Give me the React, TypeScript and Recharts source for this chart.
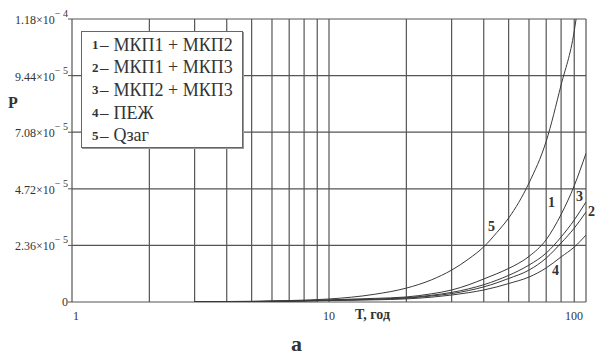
import React from 'react';
import { LineChart, Line, XAxis, YAxis, CartesianGrid } from 'recharts';

// T, years (log axis) and probabilities P for each scheme
const years = [3, 5, 7, 10, 15, 20, 25, 30, 35, 40, 45, 50, 60, 70, 80, 90, 100];
const mkp12 = [0.05e-6, 0.2e-6, 0.45e-6, 0.9e-6, 1.5e-6, 2.1e-6, 3.4e-6, 5.0e-6, 7.2e-6, 9.6e-6, 11.8e-6, 14.0e-6, 19.0e-6, 26.0e-6, 36.5e-6, 48.5e-6, 62.0e-6];
const mkp13 = [0.04e-6, 0.15e-6, 0.35e-6, 0.7e-6, 1.1e-6, 1.6e-6, 2.5e-6, 3.5e-6, 4.8e-6, 6.3e-6, 8.0e-6, 9.8e-6, 13.3e-6, 18.3e-6, 24.6e-6, 30.8e-6, 37.5e-6];
const mkp23 = [0.04e-6, 0.15e-6, 0.35e-6, 0.7e-6, 1.2e-6, 1.8e-6, 2.8e-6, 4.0e-6, 5.5e-6, 7.2e-6, 9.1e-6, 11.1e-6, 15.4e-6, 20.4e-6, 27.1e-6, 34.2e-6, 41.7e-6];
const pez = [0.03e-6, 0.12e-6, 0.3e-6, 0.6e-6, 0.9e-6, 1.3e-6, 2.0e-6, 2.9e-6, 3.9e-6, 5.0e-6, 6.3e-6, 7.7e-6, 10.4e-6, 14.2e-6, 18.8e-6, 22.9e-6, 27.9e-6];
const qzagYears = [3, 5, 7, 10, 15, 20, 25, 30, 35, 40, 45, 50, 60, 70, 80, 90, 91.5];
const qzag = [0.1e-6, 0.3e-6, 0.6e-6, 1.25e-6, 3.2e-6, 5.8e-6, 9.2e-6, 13.3e-6, 18.0e-6, 23.0e-6, 29.0e-6, 35.0e-6, 49.6e-6, 67.0e-6, 90.5e-6, 113e-6, 118e-6];

const xTicks = [1, 2, 3, 4, 5, 6, 7, 8, 9, 10, 20, 30, 40, 50, 60, 70, 80, 90, 100];
const xLabels = [1, 10, 100];
const yTicks = [0, 2.36e-5, 4.72e-5, 7.08e-5, 9.44e-5, 1.18e-4];

const legendItems = [
  { num: '1', text: 'МКП1 + МКП2' },
  { num: '2', text: 'МКП1 + МКП3' },
  { num: '3', text: 'МКП2 + МКП3' },
  { num: '4', text: 'ПЕЖ' },
  { num: '5', text: 'Qзаг' },
];

const toSeries = (xs: number[], ys: number[]) => xs.map((t, i) => ({ t, p: ys[i] }));

const FONT = "'Liberation Serif', 'DejaVu Serif', 'Times New Roman', Times, serif";
const INK = '#333';

const YTick = (props: any) => {
  const { x, y, payload } = props;
  const v: number = payload.value;
  if (v === 0) {
    return (
      <text x={x} y={y + 4} textAnchor="end" fontSize={12} fontFamily={FONT} fill={INK}>
        0
      </text>
    );
  }
  const [mant, exp] = v.toExponential(2).split('e');
  return (
    <text x={x} y={y + 5} textAnchor="end" fontSize={12} fontFamily={FONT} fill={INK}>
      <tspan>{mant}×10</tspan>
      <tspan dy={-7} fontSize={10}>
        {'\u2212 ' + String(-Number(exp))}
      </tspan>
    </text>
  );
};

const XTick = (props: any) => {
  const { x, y, payload } = props;
  const v: number = payload.value;
  if (!xLabels.includes(v)) return null;
  const anchor = v === 1 ? 'start' : v === 100 ? 'end' : 'middle';
  const dx = v === 100 ? -3 : v === 1 ? 1 : 0;
  return (
    <text x={x + dx} y={y + 18} textAnchor={anchor} fontSize={12} fontFamily={FONT} fill={INK}>
      {v}
    </text>
  );
};

const curveLabels = [
  { n: '5', x: 488, y: 219 },
  { n: '1', x: 548, y: 195 },
  { n: '3', x: 576, y: 189 },
  { n: '2', x: 588, y: 204 },
  { n: '4', x: 552, y: 263 },
];

const App: React.FC = () => {
  return (
    <div style={{ position: 'relative', width: 595, height: 355, fontFamily: FONT, background: '#fff' }}>
      <style>{'body{margin:0}'}</style>
      <LineChart width={595} height={355} margin={{ top: 19, right: 9, left: 0, bottom: 0 }}>
        <CartesianGrid stroke="#555" strokeWidth={1.2} fill="none" />
        <XAxis
          type="number"
          dataKey="t"
          scale="log"
          domain={[1, 100]}
          ticks={xTicks}
          interval={0}
          allowDataOverflow
          axisLine={false}
          tickLine={false}
          tickSize={0}
          tickMargin={0}
          height={53}
          tick={<XTick />}
        />
        <YAxis
          type="number"
          domain={[0, 1.18e-4]}
          ticks={yTicks}
          interval={0}
          allowDataOverflow
          axisLine={false}
          tickLine={{ stroke: '#555' }}
          tickSize={4}
          tickMargin={0}
          width={72}
          tick={<YTick />}
        />
        <Line data={toSeries(years, mkp12)} dataKey="p" type="monotone" stroke="#3a3a3a" strokeWidth={1} dot={false} isAnimationActive={false} />
        <Line data={toSeries(years, mkp13)} dataKey="p" type="monotone" stroke="#3a3a3a" strokeWidth={1} dot={false} isAnimationActive={false} />
        <Line data={toSeries(years, mkp23)} dataKey="p" type="monotone" stroke="#3a3a3a" strokeWidth={1} dot={false} isAnimationActive={false} />
        <Line data={toSeries(years, pez)} dataKey="p" type="monotone" stroke="#3a3a3a" strokeWidth={1} dot={false} isAnimationActive={false} />
        <Line data={toSeries(qzagYears, qzag)} dataKey="p" type="monotone" stroke="#3a3a3a" strokeWidth={1} dot={false} isAnimationActive={false} />
      </LineChart>

      {/* legend box */}
      <div
        style={{
          position: 'absolute',
          left: 81,
          top: 31,
          width: 162,
          height: 117,
          background: '#fff',
          border: '1px solid #666',
          boxShadow: '1px 1px 0 #999',
          boxSizing: 'border-box',
          paddingTop: 2,
        }}
      >
        {legendItems.map((it) => (
          <div key={it.num} style={{ height: 22.6, display: 'flex', alignItems: 'center', color: INK, whiteSpace: 'nowrap' }}>
            <span style={{ fontWeight: 'bold', fontSize: 13, marginLeft: 10, width: 7 }}>{it.num}</span>
            <span style={{ fontSize: 17, marginLeft: 1 }}>–</span>
            <span style={{ fontSize: 18, marginLeft: 5 }}>{it.text}</span>
          </div>
        ))}
      </div>

      {curveLabels.map((c) => (
        <div key={c.n} style={{ position: 'absolute', left: c.x, top: c.y, fontWeight: 'bold', fontSize: 14, color: INK }}>
          {c.n}
        </div>
      ))}

      <div style={{ position: 'absolute', left: 8, top: 94, fontWeight: 'bold', fontSize: 16, color: INK }}>P</div>
      <div style={{ position: 'absolute', left: 355, top: 307, fontWeight: 'bold', fontSize: 14, color: INK }}>T, год</div>
      <div style={{ position: 'absolute', left: 291, top: 331, fontWeight: 'bold', fontSize: 22, color: INK }}>а</div>
    </div>
  );
};

export default App;
